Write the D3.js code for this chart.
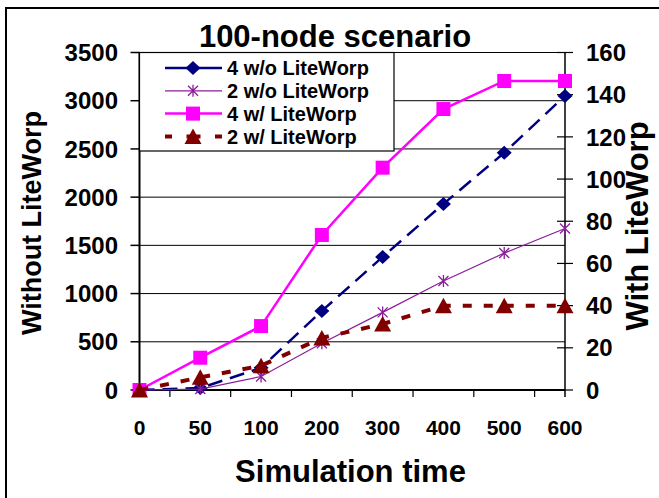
<!DOCTYPE html>
<html>
<head>
<meta charset="utf-8">
<script src="https://cdn.jsdelivr.net/npm/d3@7"></script>
<style>
  body { margin: 0; background: #fff; }
  svg text { font-family: "Liberation Sans", Arial, sans-serif; font-weight: bold; fill: #000; }
</style>
</head>
<body>
<div id="chart"></div>
<script>
// data
const categories = ["0", "50", "100", "200", "300", "400", "500", "600"];
const noLite4 = [0, 20, 230, 820, 1380, 1930, 2460, 3050];   // left axis
const noLite2 = [0, 10, 140, 485, 805, 1130, 1420, 1675];    // left axis
const lite4 = [0, 15.3, 30.3, 73.5, 105.4, 133.2, 146.5, 146.5]; // right axis
const lite2 = [0, 6, 11.5, 24.7, 31.3, 40, 40, 40];            // right axis
const leftTicks = [0, 500, 1000, 1500, 2000, 2500, 3000, 3500];
const rightTicks = [0, 20, 40, 60, 80, 100, 120, 140, 160];

const width = 659, height = 498;
const plot = { left: 139.5, right: 565, top: 52.5, bottom: 390 };

const svg = d3.select("#chart").append("svg")
  .attr("width", width)
  .attr("height", height);

// outer frame (runs off the picture at right and bottom)
svg.append("rect")
  .attr("x", 6).attr("y", 8)
  .attr("width", 720).attr("height", 600)
  .attr("fill", "none")
  .attr("stroke", "#000")
  .attr("stroke-width", 2);

const x = d3.scalePoint().domain(categories).range([plot.left, plot.right]);
const yLeft = d3.scaleLinear().domain([0, 3500]).range([plot.bottom, plot.top]);
const yRight = d3.scaleLinear().domain([0, 160]).range([plot.bottom, plot.top]);

// gridlines follow the left axis
svg.selectAll(".grid")
  .data(leftTicks.slice(1))
  .enter()
  .append("line")
  .attr("class", "grid")
  .attr("x1", plot.left).attr("x2", plot.right)
  .attr("y1", (d) => yLeft(d)).attr("y2", (d) => yLeft(d))
  .attr("stroke", "#000")
  .attr("stroke-width", 1);

// left axis
svg.append("line")
  .attr("x1", plot.left).attr("x2", plot.left)
  .attr("y1", plot.top).attr("y2", plot.bottom)
  .attr("stroke", "#000").attr("stroke-width", 2);
svg.selectAll(".ltick").data(leftTicks).enter().append("line")
  .attr("x1", plot.left - 9).attr("x2", plot.left)
  .attr("y1", (d) => yLeft(d)).attr("y2", (d) => yLeft(d))
  .attr("stroke", "#000").attr("stroke-width", 1.5);
svg.selectAll(".llabel").data(leftTicks).enter().append("text")
  .attr("x", 118)
  .attr("y", (d) => yLeft(d))
  .attr("dy", "0.36em")
  .attr("text-anchor", "end")
  .style("font-size", "24px")
  .text((d) => d);

// right axis
svg.append("line")
  .attr("x1", plot.right).attr("x2", plot.right)
  .attr("y1", plot.top).attr("y2", plot.bottom + 7)
  .attr("stroke", "#000").attr("stroke-width", 1.5);
svg.selectAll(".rtick").data(rightTicks).enter().append("line")
  .attr("x1", plot.right - 8).attr("x2", plot.right + 8)
  .attr("y1", (d) => yRight(d)).attr("y2", (d) => yRight(d))
  .attr("stroke", "#000").attr("stroke-width", 1.2);
svg.selectAll(".rlabel").data(rightTicks).enter().append("text")
  .attr("x", 586)
  .attr("y", (d) => yRight(d))
  .attr("dy", "0.36em")
  .style("font-size", "24px")
  .text((d) => d);

// bottom axis, ticks sit between categories
svg.append("line")
  .attr("x1", plot.left).attr("x2", plot.right)
  .attr("y1", plot.bottom).attr("y2", plot.bottom)
  .attr("stroke", "#000").attr("stroke-width", 2);
svg.selectAll(".xtick").data(categories.slice(1)).enter().append("line")
  .attr("x1", (d) => x(d) - x.step() / 2).attr("x2", (d) => x(d) - x.step() / 2)
  .attr("y1", plot.bottom).attr("y2", plot.bottom + 7)
  .attr("stroke", "#000").attr("stroke-width", 1.2);
svg.selectAll(".xlabel").data(categories).enter().append("text")
  .attr("x", (d) => x(d))
  .attr("y", 435)
  .attr("text-anchor", "middle")
  .style("font-size", "21px")
  .text((d) => d);

// titles
svg.append("text")
  .attr("x", 335).attr("y", 47)
  .attr("text-anchor", "middle")
  .style("font-size", "31px")
  .text("100-node scenario");
svg.append("text")
  .attr("x", 350.5).attr("y", 482)
  .attr("text-anchor", "middle")
  .style("font-size", "31px")
  .text("Simulation time");
svg.append("text")
  .attr("transform", "translate(41,223) rotate(-90)")
  .attr("text-anchor", "middle")
  .style("font-size", "27px")
  .text("Without LiteWorp");
svg.append("text")
  .attr("transform", "translate(648,226) rotate(-90)")
  .attr("text-anchor", "middle")
  .style("font-size", "31px")
  .text("With LiteWorp");

// marker shapes
const shapes = {
  diamond: "M0,-7L7.5,0L0,7L-7.5,0Z",
  star: "M-5,-5L5,5M-5,5L5,-5M0,-6L0,6",
  square: "M-7,-7H7V7H-7Z",
  triangle: "M0,-8L8.5,7.5L-8.5,7.5Z"
};

const series = [
  { name: "4 w/o LiteWorp", values: noLite4, y: yLeft, color: "#000080", width: 2.5, dash: "15,8", marker: "diamond" },
  { name: "2 w/o LiteWorp", values: noLite2, y: yLeft, color: "#8B1C9B", width: 1.2, dash: null, marker: "star" },
  { name: "4 w/ LiteWorp", values: lite4, y: yRight, color: "#FF00FF", width: 2.5, dash: null, marker: "square" },
  { name: "2 w/ LiteWorp", values: lite2, y: yRight, color: "#800000", width: 4, dash: "9,12", marker: "triangle" }
];

series.forEach((s) => {
  const line = d3.line()
    .x((d, i) => x(categories[i]))
    .y((d) => s.y(d));

  svg.append("path")
    .datum(s.values)
    .attr("d", line)
    .attr("fill", "none")
    .attr("stroke", s.color)
    .attr("stroke-width", s.width)
    .attr("stroke-dasharray", s.dash);

  svg.selectAll(".m-" + s.marker)
    .data(s.values)
    .enter()
    .append("path")
    .attr("class", "m-" + s.marker)
    .attr("transform", (d, i) => `translate(${x(categories[i])},${s.y(d)})`)
    .attr("d", shapes[s.marker])
    .attr("fill", s.marker === "star" ? "none" : s.color)
    .attr("stroke", s.color)
    .attr("stroke-width", s.marker === "star" ? 1.3 : 0);
});

// legend
const legend = svg.append("g");
legend.append("rect")
  .attr("x", plot.left).attr("y", plot.top)
  .attr("width", 254.5).attr("height", 98.5)
  .attr("fill", "#fff")
  .attr("stroke", "#000")
  .attr("stroke-width", 1.2);

const rows = legend.selectAll(".row")
  .data(series)
  .enter()
  .append("g")
  .attr("transform", (d, i) => `translate(0,${68 + i * 22.8})`);

rows.append("line")
  .attr("x1", 165)
  .attr("x2", 222)
  .attr("stroke", (d) => d.color)
  .attr("stroke-width", (d) => d.width)
  .attr("stroke-dasharray", (d) => (d.marker === "triangle" ? "7,14.5,14,14.5,7" : null));
rows.append("path")
  .attr("transform", "translate(193,0)")
  .attr("d", (d) => shapes[d.marker])
  .attr("fill", (d) => (d.marker === "star" ? "none" : d.color))
  .attr("stroke", (d) => d.color)
  .attr("stroke-width", (d) => (d.marker === "star" ? 1.3 : 0));
rows.append("text")
  .attr("x", 227)
  .attr("dy", "0.36em")
  .style("font-size", "20px")
  .text((d) => d.name);
</script>
</body>
</html>
